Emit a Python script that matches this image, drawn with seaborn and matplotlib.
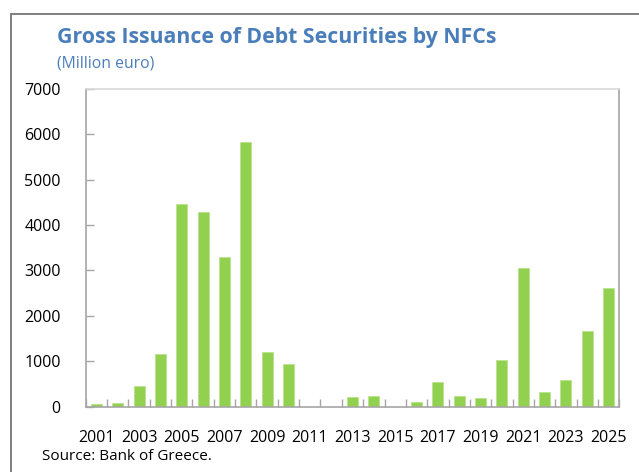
import matplotlib
matplotlib.use("Agg")
import matplotlib.pyplot as plt
from matplotlib.lines import Line2D
from matplotlib.ticker import FixedLocator
import seaborn as sns
import pandas as pd

# Gross issuance of debt securities by non-financial corporations (million euro)
years = [str(y) for y in range(2001, 2026)]
issuance = [60, 80, 450, 1155, 4460, 4295, 3300, 5830, 1205, 940,
            0, 0, 207, 242, 0, 110, 550, 229, 198, 1022,
            3048, 324, 588, 1674, 2621]
y_ticks = [0, 1000, 2000, 3000, 4000, 5000, 6000, 7000]

title = "Gross Issuance of Debt Securities by NFCs"
subtitle = "(Million euro)"
source = "Source: Bank of Greece."

df = pd.DataFrame({"year": years, "value": issuance})

sns.set_theme(style="white")
plt.rcParams["font.family"] = ["Open Sans", "DejaVu Sans"]

W, H = 639, 472
fig = plt.figure(figsize=(W / 100, H / 100), dpi=100)
ax = fig.add_axes([85.7 / W, 1 - 406.7 / H, (619.3 - 85.7) / W, (406.7 - 88.7) / H])

sns.barplot(data=df, x="year", y="value", color="#92D050", saturation=1,
            width=0.52, edgecolor="#B9E38C", linewidth=0.6, ax=ax)

ax.set_xlim(-0.5, len(years) - 0.5)
ax.set_ylim(y_ticks[0], y_ticks[-1])
ax.set_yticks(y_ticks)
ax.set_yticklabels([str(t) for t in y_ticks], fontsize=11.5, color="#000000")

ax.set_xticks(range(len(years)))
ax.set_xticklabels([y if i % 2 == 0 else "" for i, y in enumerate(years)],
                   fontsize=11.5, color="#000000")
ax.xaxis.set_minor_locator(FixedLocator([i + 0.5 for i in range(-1, len(years))]))
ax.tick_params(axis="x", which="major", length=0, pad=17)
ax.tick_params(axis="x", which="minor", direction="in", length=6, width=1, color="#A6A6A6", bottom=True)
ax.tick_params(axis="y", which="major", direction="in", length=6, width=1, color="#A6A6A6", pad=18, left=True)
ax.set_xlabel("")
ax.set_ylabel("")

for side in ["left", "bottom", "right"]:
    ax.spines[side].set_color("#A6A6A6")
    ax.spines[side].set_linewidth(1.2)
    ax.spines[side].set_visible(True)
ax.spines["top"].set_color("#D9D9D9")
ax.spines["top"].set_linewidth(1.2)
ax.spines["top"].set_visible(True)

# Frame around the figure (top and left edges)
fig.add_artist(Line2D([11 / W, 1], [1 - 14 / H, 1 - 14 / H], color="#7F7F7F", lw=1.4))
fig.add_artist(Line2D([11 / W, 11 / W], [0, 1 - 14 / H], color="#7F7F7F", lw=1.4))

fig.text(57 / W, 1 - 38 / H, title, fontsize=15.3, fontweight="bold",
         color="#4A7EBB", ha="left", va="center")
fig.text(57 / W, 1 - 64 / H, subtitle, fontsize=11.3, color="#4A7EBB",
         ha="left", va="center")
fig.text(42 / W, 1 - 456 / H, source, fontsize=11, color="#000000",
         ha="left", va="center")

fig.savefig("out.png", dpi=100)
